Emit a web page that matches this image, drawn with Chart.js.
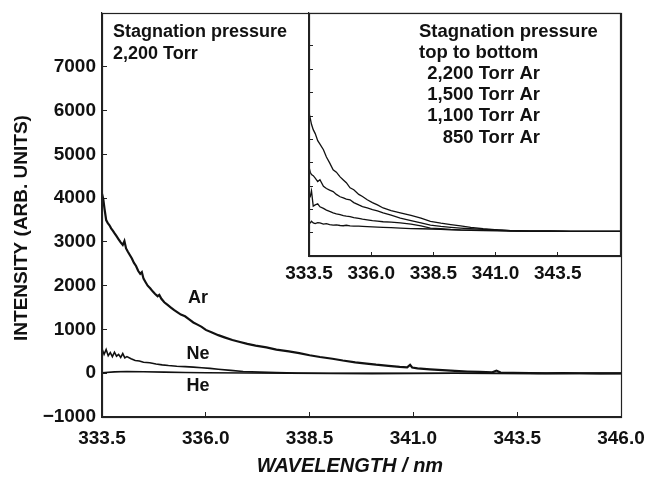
<!DOCTYPE html>
<html>
<head>
<meta charset="utf-8">
<script src="https://cdn.jsdelivr.net/npm/chart.js@4.4.0/dist/chart.umd.min.js"></script>
<style>
  html, body { margin: 0; padding: 0; background: #fff; }
  #wrap { position: relative; width: 650px; height: 478px; }
  #wrap canvas { position: absolute; left: 0; top: 0; }
</style>
</head>
<body>
<div id="wrap">
  <canvas id="main" width="650" height="478"></canvas>
  <canvas id="inset" width="650" height="478"></canvas>
</div>
<script>
// ---------- Main panel data (stagnation pressure 2,200 Torr) ----------
const mainXTicks = [333.5, 336.0, 338.5, 341.0, 343.5, 346.0];
const mainYTicks = [-1000, 0, 1000, 2000, 3000, 4000, 5000, 6000, 7000];

const arWl = [333.50,333.53,333.56,333.60,333.64,333.68,333.72,333.76,333.80,333.85,333.90,333.95,334.00,334.04,334.08,334.12,334.17,334.22,334.27,334.32,334.37,334.42,334.46,334.50,334.55,334.60,334.66,334.72,334.78,334.84,334.88,334.93,335.00,335.08,335.16,335.24,335.32,335.40,335.50,335.60,335.70,335.80,335.90,336.00,336.15,336.30,336.45,336.64,336.80,337.00,337.20,337.46,337.70,338.00,338.25,338.50,338.75,339.05,339.30,339.60,339.87,340.10,340.40,340.67,340.85,340.92,340.97,341.10,341.40,341.70,342.00,342.30,342.60,342.90,343.00,343.10,343.40,343.80,344.20,344.60,345.00,345.50,346.00];
const arI  = [4100,3980,3760,3500,3430,3380,3310,3260,3200,3130,3060,2990,2930,3020,2850,2780,2700,2620,2520,2450,2340,2270,2310,2160,2080,2000,1940,1870,1810,1760,1790,1700,1620,1560,1500,1440,1390,1340,1300,1230,1160,1110,1060,990,930,870,820,760,720,670,630,590,540,500,460,410,370,330,290,250,220,195,170,145,135,190,130,110,90,70,55,40,30,20,60,15,10,5,0,5,0,-5,0];

const neWl = [333.50,333.55,333.60,333.65,333.70,333.75,333.80,333.85,333.90,333.95,334.00,334.05,334.10,334.20,334.30,334.40,334.50,334.65,334.80,334.95,335.10,335.30,335.50,335.70,335.90,336.10,336.30,336.60,336.90,337.30,337.70,338.20,339.00,340.00,341.00,342.00,343.00,344.00,345.00,346.00];
const neI  = [560,430,540,400,470,380,480,390,430,360,450,350,380,330,290,280,250,240,210,190,175,160,150,140,125,110,90,65,40,25,15,5,0,0,0,0,0,0,0,0];

const heWl = [333.5,333.8,334.1,334.5,335.0,335.5,336.0,337.0,338.0,339.0,340.0,341.0,342.0,343.0,344.0,345.0,346.0];
const heI  = [10,30,40,35,25,15,10,5,0,-5,-10,-5,0,-5,-10,-5,-10];

// ---------- Inset data (Ar, top to bottom: 2,200 / 1,500 / 1,100 / 850 Torr) ----------
const insetXTicks = [333.5, 336.0, 338.5, 341.0, 343.5];
const insetYTicks = [0, 1000, 2000, 3000, 4000, 5000, 6000, 7000, 8000];
const insetWl = [333.50,333.55,333.60,333.67,333.75,333.85,333.94,334.08,334.20,334.33,334.47,334.60,334.75,334.88,335.00,335.15,335.30,335.50,335.65,335.84,336.05,336.25,336.48,336.80,337.17,337.60,338.00,338.38,338.80,339.20,339.59,340.00,340.50,341.08,341.60,342.40,343.20,344.00,345.00,346.00];
const ar2200 = [5150,4900,4650,4420,4250,3950,3800,3560,3250,3000,2700,2600,2400,2270,2150,1930,1850,1650,1560,1420,1300,1200,1070,960,860,750,640,500,420,360,300,240,180,130,100,80,75,70,70,70];
const ar1500 = [2830,2600,2500,2450,2350,2200,2280,2000,1900,1830,1770,1650,1550,1500,1450,1420,1300,1200,1130,1070,1000,950,860,760,640,530,430,340,280,240,210,180,150,130,100,80,75,70,70,70];
const ar1100 = [1500,1550,1800,1150,1200,1250,1120,1050,980,920,860,820,780,740,720,700,660,620,590,560,530,510,480,460,430,380,300,210,180,150,130,120,110,110,90,80,75,70,70,70];
const ar850  = [470,430,500,430,400,440,430,380,400,360,340,350,320,310,330,300,290,290,280,270,260,250,240,230,210,190,180,170,150,130,120,110,100,90,85,80,75,70,70,70];

const FONT = "'Liberation Sans', Arial, Helvetica, sans-serif";
const pairs = (xs, ys) => xs.map((x, i) => ({x: x, y: ys[i]}));
const fmtY = v => v < 0 ? '\u2212' + Math.abs(v) : String(v);
const noPad = s => { s.paddingTop = 0; s.paddingBottom = 0; s.paddingLeft = 0; s.paddingRight = 0; };

function lineSet(label, xs, ys, w) {
  return { label: label, data: pairs(xs, ys), borderColor: '#111', borderWidth: w,
           pointRadius: 0, fill: false, tension: 0 };
}

const boxPlugin = {
  id: 'box',
  beforeDraw(chart) {
    const a = chart.chartArea, c = chart.ctx;
    c.save(); c.fillStyle = '#fff'; c.fillRect(a.left, a.top, a.right - a.left, a.bottom - a.top); c.restore();
  },
  afterDraw(chart) {
    const a = chart.chartArea, c = chart.ctx;
    c.save(); c.strokeStyle = '#222'; c.lineWidth = 1.2;
    c.strokeRect(a.left + 0.5, a.top + 0.5, a.right - a.left, a.bottom - a.top);
    c.restore();
  }
};

const mainText = {
  id: 'mainText',
  afterDraw(chart) {
    const c = chart.ctx;
    c.save();
    c.fillStyle = '#111';
    c.font = 'bold 18px ' + FONT;
    c.textAlign = 'left'; c.textBaseline = 'alphabetic';
    c.fillText('Stagnation pressure', 113, 37);
    c.fillText('2,200 Torr', 113, 59);
    c.textAlign = 'center'; c.textBaseline = 'middle';
    c.fillText('Ar', 198, 298);
    c.fillText('Ne', 198, 354);
    c.fillText('He', 198, 386);
    c.font = 'bold italic 20px ' + FONT;
    c.fillText('WAVELENGTH / nm', 350, 466);
    c.translate(22, 228); c.rotate(-Math.PI / 2);
    c.font = 'bold 19px ' + FONT;
    c.fillText('INTENSITY (ARB. UNITS)', 0, 0);
    c.restore();
  }
};

const insetText = {
  id: 'insetText',
  afterDraw(chart) {
    const c = chart.ctx;
    c.save();
    c.fillStyle = '#111';
    c.font = 'bold 18.5px ' + FONT;
    c.textBaseline = 'alphabetic';
    c.textAlign = 'left';
    c.fillText('Stagnation pressure', 419, 37);
    c.fillText('top to bottom', 419, 58);
    c.textAlign = 'right';
    c.fillText('2,200 Torr Ar', 540, 79);
    c.fillText('1,500 Torr Ar', 540, 100);
    c.fillText('1,100 Torr Ar', 540, 121);
    c.fillText('850 Torr Ar', 540, 143);
    c.restore();
  }
};

new Chart(document.getElementById('main'), {
  type: 'line',
  data: { datasets: [
    lineSet('Ar', arWl, arI, 2.2),
    lineSet('Ne', neWl, neI, 1.6),
    lineSet('He', heWl, heI, 1.6)
  ]},
  options: {
    responsive: false, animation: false, devicePixelRatio: 1,
    layout: { padding: { top: 13, right: 29, left: 0, bottom: 0 } },
    plugins: { legend: { display: false }, tooltip: { enabled: false } },
    scales: {
      x: {
        type: 'linear', min: 333.5, max: 346.0,
        afterBuildTicks: s => { s.ticks = mainXTicks.map(v => ({value: v})); },
        afterFit: s => { s.height = 61; noPad(s); },
        grid: { drawOnChartArea: false, tickLength: -5, color: '#222', lineWidth: 1 },
        border: { display: true, color: '#222', width: 1.2 },
        ticks: { padding: 15, maxRotation: 0, autoSkip: false, color: '#111',
                 font: { family: FONT, size: 19, weight: 'bold' },
                 callback: v => Number(v).toFixed(1) }
      },
      y: {
        type: 'linear', min: -1000, max: 8230,
        afterBuildTicks: s => { s.ticks = mainYTicks.map(v => ({value: v})); },
        afterFit: s => { s.width = 102; noPad(s); },
        grid: { drawOnChartArea: false, tickLength: -5, color: '#222', lineWidth: 1 },
        border: { display: true, color: '#222', width: 1.2 },
        ticks: { padding: 11, autoSkip: false, color: '#111',
                 font: { family: FONT, size: 19, weight: 'bold' },
                 callback: v => fmtY(v) }
      }
    }
  },
  plugins: [boxPlugin, mainText]
});

new Chart(document.getElementById('inset'), {
  type: 'line',
  data: { datasets: [
    lineSet('2,200 Torr Ar', insetWl, ar2200, 1.3),
    lineSet('1,500 Torr Ar', insetWl, ar1500, 1.3),
    lineSet('1,100 Torr Ar', insetWl, ar1100, 1.3),
    lineSet('850 Torr Ar', insetWl, ar850, 1.3)
  ]},
  options: {
    responsive: false, animation: false, devicePixelRatio: 1,
    layout: { padding: { top: 13, right: 30, left: 0, bottom: 0 } },
    plugins: { legend: { display: false }, tooltip: { enabled: false } },
    scales: {
      x: {
        type: 'linear', min: 333.5, max: 346.0,
        afterBuildTicks: s => { s.ticks = insetXTicks.map(v => ({value: v})); },
        afterFit: s => { s.height = 222; noPad(s); },
        grid: { drawOnChartArea: false, tickLength: -4, color: '#222', lineWidth: 1 },
        border: { display: true, color: '#222', width: 1.2 },
        ticks: { padding: 10, maxRotation: 0, autoSkip: false, color: '#111',
                 font: { family: FONT, size: 19, weight: 'bold' },
                 callback: v => Number(v).toFixed(1) }
      },
      y: {
        type: 'linear', min: -985, max: 9410,
        afterBuildTicks: s => { s.ticks = insetYTicks.map(v => ({value: v})); },
        afterFit: s => { s.width = 309; noPad(s); },
        grid: { drawOnChartArea: false, tickLength: -4, color: '#222', lineWidth: 1 },
        border: { display: true, color: '#222', width: 1.2 },
        ticks: { display: false }
      }
    }
  },
  plugins: [boxPlugin, insetText]
});
</script>
</body>
</html>
